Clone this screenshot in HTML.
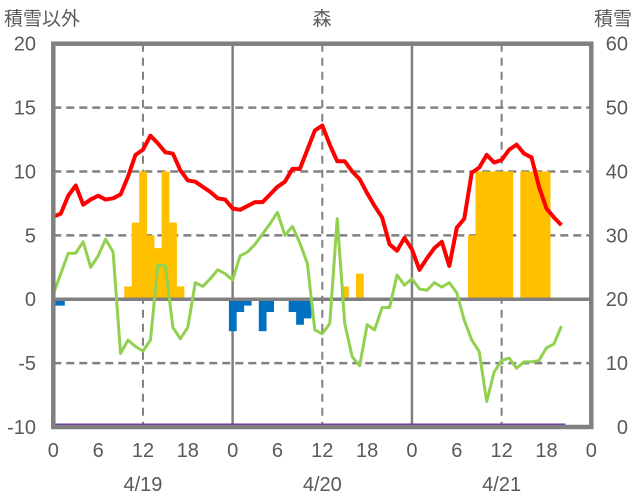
<!DOCTYPE html>
<html><head><meta charset="utf-8"><style>
body{margin:0;background:#fff;}
svg{display:block;font-family:"Liberation Sans Narrow","Liberation Sans","Noto Sans CJK JP",sans-serif;}
</style></head><body>
<svg id="c" width="636" height="501"></svg>
<script>
const tempRed=[6.45,6.7,8.1,8.9,7.4,7.8,8.1,7.8,7.9,8.2,9.6,11.3,11.7,12.8,12.2,11.5,11.4,10.1,9.3,9.2,8.8,8.4,7.9,7.8,
7.1,7.0,7.3,7.6,7.6,8.2,8.8,9.2,10.2,10.2,11.7,13.2,13.6,12.1,10.8,10.8,10.0,9.4,8.3,7.3,6.4,4.3,3.8,4.8,
3.9,2.3,3.2,4.0,4.5,2.6,5.6,6.3,9.9,10.3,11.3,10.7,10.9,11.7,12.1,11.4,11.1,8.8,7.1,6.4,5.8];
const greenLine=[0.4,2.0,3.6,3.6,4.5,2.5,3.4,4.7,3.7,-4.25,-3.2,-3.7,-4.05,-3.2,2.7,2.6,-2.2,-3.1,-2.2,1.3,1.0,1.6,2.3,2.0,
1.5,3.4,3.7,4.3,5.1,5.9,6.8,5.0,5.7,4.4,2.8,-2.4,-2.7,-1.9,6.3,-1.9,-4.5,-5.2,-2.0,-2.4,-0.65,-0.65,1.9,1.1,
1.6,0.8,0.7,1.3,0.95,1.3,0.5,-1.65,-3.2,-4.1,-8.0,-5.7,-4.8,-4.6,-5.4,-4.9,-4.9,-4.8,-3.8,-3.5,-2.1];
const snowHours=[10,11,12,13,14,15,16,17,39,41,56,57,58,59,60,61,63,64,65,66];
const snowVals=[1,6,10,5,4,10,6,1,1,2,5,10,10,10,10,10,10,10,10,10];
const negHours=[0,1,24,25,26,28,29,32,33,34];
const negVals=[-0.5,-0.5,-2.5,-1,-0.5,-2.5,-1,-1,-2,-1.5];
const leftTicks=[20,15,10,5,0,-5,-10];
const rightTicks=[60,50,40,30,20,10,0];
const hourTicks=["0","6","12","18","0","6","12","18","0","6","12","18","0"];
const dates=["4/19","4/20","4/21"];

const L=53.3,R=591.3,T=43.7,B=427;
const x=h=>L+(R-L)*h/72;
const y=v=>T+(20-v)*(B-T)/30;
const svg=document.getElementById('c');
const NS='http://www.w3.org/2000/svg';
function mk(t,a,p){const e=document.createElementNS(NS,t);for(const k in a)e.setAttribute(k,a[k]);(p||svg).appendChild(e);return e;}

// gridlines
leftTicks.forEach(v=>{if(v===20||v===-10||v===0)return;
 const g=mk('line',{x1:L,x2:R,y1:y(v),y2:y(v),stroke:'#808080','stroke-width':2.5,'stroke-dasharray':'8,5'});
 
 });
for(let d=0;d<3;d++){
 const g=mk('line',{x1:x(d*24+12),x2:x(d*24+12),y1:T,y2:B,stroke:'#808080','stroke-width':2,'stroke-dasharray':'8,6'});
 
 
 if(d>0){const s=mk('line',{x1:x(d*24),x2:x(d*24),y1:T,y2:B,stroke:'#808080','stroke-width':2.5});
 
 }
}
// bars
snowHours.forEach((h,i)=>{const v=snowVals[i];
 const r=mk('rect',{x:x(h-0.5),y:y(v),width:x(1)-x(0)+0.3,height:y(0)-y(v),fill:'#FFC000'});
 
 });
negHours.forEach((h,i)=>{const v=negVals[i];let x0=Math.max(x(h-0.5),L);
 const r=mk('rect',{x:x0,y:y(0),width:x(h+0.5)-x0+0.3,height:y(v)-y(0),fill:'#0070C0'});
 
 });
// zero line
const z=mk('line',{x1:L,x2:R,y1:y(0),y2:y(0),stroke:'#808080','stroke-width':3.5});


// lines
function line(arr,col,w,name){const p=mk('polyline',{points:arr.map((v,i)=>x(i)+','+y(v)).join(' '),fill:'none',stroke:col,'stroke-width':w,'stroke-linejoin':'round'});
 
 }
line(greenLine,'#92D050',3,'green-series');
line(tempRed,'#FF0000',4,'red-series');
const pu=mk('line',{x1:L,x2:x(tempRed.length-1)+4,y1:y(-10)-2,y2:y(-10)-2,stroke:'#7030A0','stroke-width':3});


// frame
const f=mk('rect',{x:L,y:T,width:R-L,height:B-T,fill:'none',stroke:'#808080','stroke-width':4.5});


// labels
function txt(s,xx,yy,anchor,size,name){const t=mk('text',{x:xx,y:yy,'text-anchor':anchor,'font-size':size,fill:'#595959'});t.textContent=s;
 
 return t;}
leftTicks.forEach(v=>txt(String(v),36,y(v)+7,'end',20,'y-left-tick'));
rightTicks.forEach((v,i)=>txt(String(v),628,y(leftTicks[i])+7,'end',20,'y-right-tick'));
hourTicks.forEach((s,i)=>txt(s,x(i*6),457,'middle',20,'x-hour-tick'));
dates.forEach((s,i)=>txt(s,x(i*24+12),491,'middle',20,'x-date-label'));
txt('積雪以外',4,25,'start',19,'y-left-title');
txt('森',322,25,'middle',19,'chart-title');
txt('積雪',632,25,'end',19,'y-right-title');
</script>
</body></html>
